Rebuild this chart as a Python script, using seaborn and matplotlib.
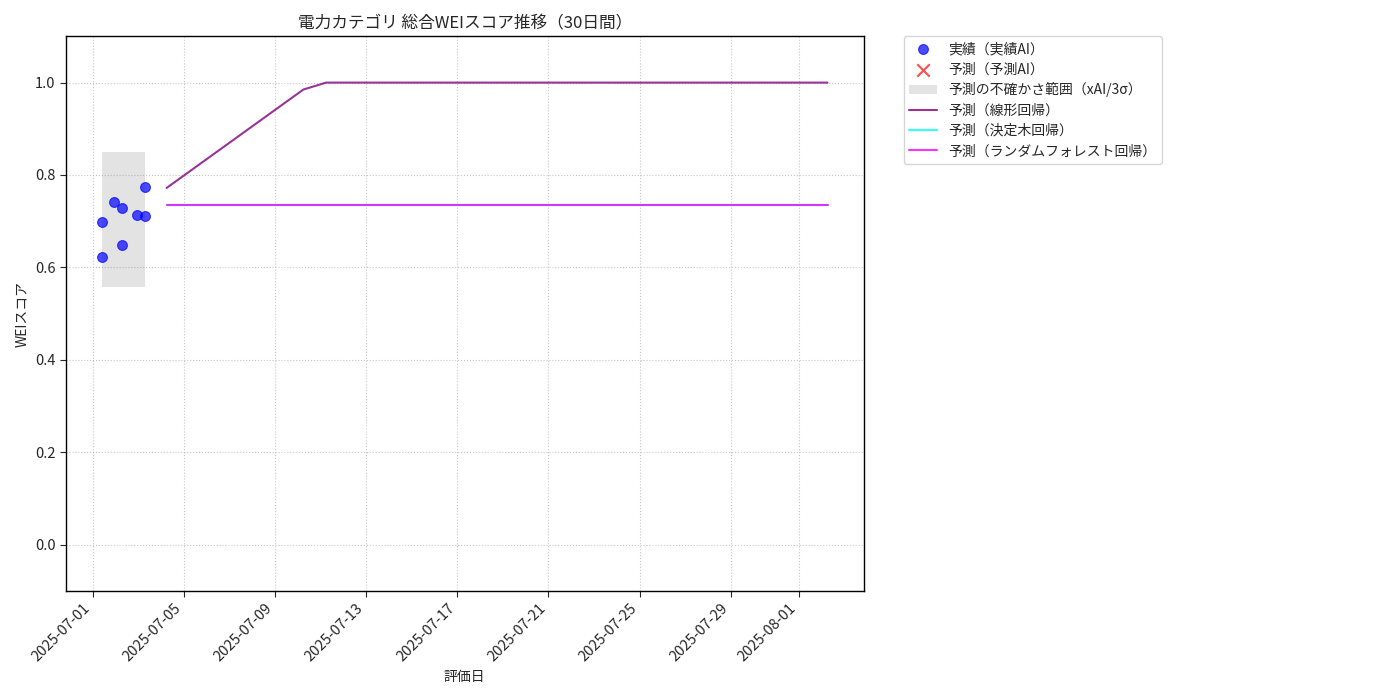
import matplotlib
matplotlib.use("Agg")
import matplotlib.pyplot as plt
import matplotlib.dates as mdates
import seaborn as sns
import pandas as pd

# ---- data ----
actual_dates = ["2025-07-01 10:00", "2025-07-01 10:00", "2025-07-01 23:00",
                "2025-07-02 07:00", "2025-07-02 07:00", "2025-07-02 23:00",
                "2025-07-03 07:00", "2025-07-03 07:30"]
actual_scores = [0.623, 0.699, 0.742, 0.729, 0.649, 0.714, 0.711, 0.774]

band_lower = 0.558
band_upper = 0.850

pred_start = "2025-07-04 06:00"
pred_days = 30
pred_linear = [0.772, 0.8075, 0.843, 0.8785, 0.914, 0.9495, 0.985, 1.0, 1.0, 1.0,
               1.0, 1.0, 1.0, 1.0, 1.0, 1.0, 1.0, 1.0, 1.0, 1.0,
               1.0, 1.0, 1.0, 1.0, 1.0, 1.0, 1.0, 1.0, 1.0, 1.0]
pred_tree = [0.735, 0.735, 0.735, 0.735, 0.735, 0.735, 0.735, 0.735, 0.735, 0.735,
             0.735, 0.735, 0.735, 0.735, 0.735, 0.735, 0.735, 0.735, 0.735, 0.735,
             0.735, 0.735, 0.735, 0.735, 0.735, 0.735, 0.735, 0.735, 0.735, 0.735]
pred_rf = [0.735, 0.735, 0.735, 0.735, 0.735, 0.735, 0.735, 0.735, 0.735, 0.735,
           0.735, 0.735, 0.735, 0.735, 0.735, 0.735, 0.735, 0.735, 0.735, 0.735,
           0.735, 0.735, 0.735, 0.735, 0.735, 0.735, 0.735, 0.735, 0.735, 0.735]

title = "電力カテゴリ 総合WEIスコア推移（30日間）"
xlabel = "評価日"
ylabel = "WEIスコア"
tick_days = [1, 5, 9, 13, 17, 21, 25, 29]

# ---- plot ----
sns.set_style("white")
plt.rcParams["font.family"] = ["Noto Sans CJK JP", "DejaVu Sans"]

actual_df = pd.DataFrame({"date": pd.to_datetime(actual_dates), "score": actual_scores})
pred_dates = pd.date_range(pred_start, periods=pred_days, freq="D")
pred_df = pd.DataFrame({"date": pred_dates, "linear": pred_linear,
                        "tree": pred_tree, "rf": pred_rf})

fig, ax = plt.subplots(figsize=(14, 7), dpi=100)
fig.subplots_adjust(left=0.047, right=0.617, top=0.948, bottom=0.156)

sns.scatterplot(data=actual_df, x="date", y="score", ax=ax, color="blue",
                alpha=0.7, s=50, edgecolor="blue", linewidth=0.8,
                label="実績（実績AI）", zorder=3)
ax.scatter([], [], marker="x", color="red", alpha=0.7, s=80, label="予測（予測AI）")
ax.fill_between([actual_df["date"].min(), actual_df["date"].max()],
                [band_lower, band_lower], [band_upper, band_upper],
                color="gray", alpha=0.22, linewidth=0,
                label="予測の不確かさ範囲（xAI/3σ）")
sns.lineplot(data=pred_df, x="date", y="linear", ax=ax, color="purple", alpha=0.8,
             linewidth=1.5, label="予測（線形回帰）")
sns.lineplot(data=pred_df, x="date", y="tree", ax=ax, color="cyan", alpha=0.8,
             linewidth=1.5, label="予測（決定木回帰）")
sns.lineplot(data=pred_df, x="date", y="rf", ax=ax, color="magenta", alpha=0.8,
             linewidth=1.5, label="予測（ランダムフォレスト回帰）")

ax.set_ylim(-0.1, 1.1)
ax.set_yticks([0.0, 0.2, 0.4, 0.6, 0.8, 1.0])
ax.set_title(title, fontsize=12)
ax.set_xlabel(xlabel, fontsize=10)
ax.set_ylabel(ylabel, fontsize=10)
ax.xaxis.set_major_locator(mdates.DayLocator(bymonthday=tick_days))
ax.xaxis.set_major_formatter(mdates.DateFormatter("%Y-%m-%d"))
plt.setp(ax.get_xticklabels(), rotation=45, ha="right")
ax.tick_params(axis="both", which="major", length=4, width=0.8, bottom=True, left=True,
               labelsize=10.5)
ax.grid(True, linestyle=":", color="#b0b0b0", alpha=0.7, linewidth=0.8)
for sp in ax.spines.values():
    sp.set_color("black")
    sp.set_linewidth(1.0)

ax.legend(bbox_to_anchor=(1.05, 1), loc="upper left", borderaxespad=0.0, fontsize=10,
          labelspacing=0.45, borderpad=0.4)

fig.savefig("out.png", dpi=100)
